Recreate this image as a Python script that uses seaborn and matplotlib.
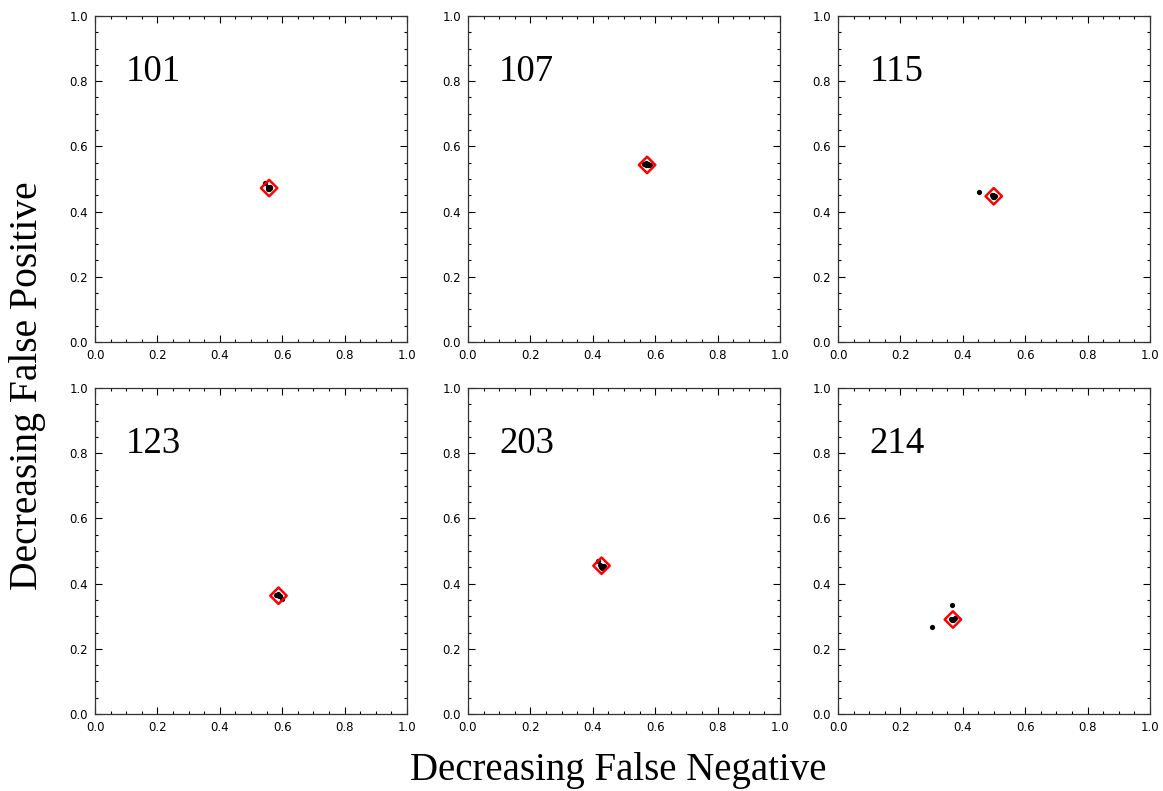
import matplotlib
matplotlib.use("Agg")
import matplotlib.pyplot as plt
from matplotlib.ticker import MultipleLocator
import seaborn as sns
import pandas as pd

sns.set_theme(style="white")
plt.rcParams["font.family"] = ["DejaVu Sans"]
plt.rcParams["text.color"] = "black"
plt.rcParams["xtick.color"] = "black"
plt.rcParams["ytick.color"] = "black"

# Panel identifiers
panels = ["101", "107", "115", "123", "203", "214"]

# Optimum (red diamond) per panel
best_x = [0.558, 0.574, 0.499, 0.588, 0.428, 0.368]
best_y = [0.472, 0.543, 0.447, 0.363, 0.455, 0.290]

# Individual runs (black dots) per panel
runs_x = [
    [0.545, 0.553, 0.556, 0.560, 0.558, 0.562, 0.555],
    [0.565, 0.570, 0.574, 0.578, 0.582, 0.572, 0.576],
    [0.452, 0.493, 0.497, 0.501, 0.499, 0.504, 0.496],
    [0.580, 0.584, 0.588, 0.590, 0.593, 0.598, 0.586],
    [0.418, 0.424, 0.428, 0.432, 0.430, 0.425, 0.436],
    [0.300, 0.365, 0.362, 0.367, 0.371, 0.375, 0.366],
    ]
runs_y = [
    [0.487, 0.476, 0.472, 0.474, 0.468, 0.471, 0.469],
    [0.545, 0.548, 0.546, 0.547, 0.544, 0.543, 0.542],
    [0.460, 0.450, 0.452, 0.448, 0.444, 0.447, 0.444],
    [0.365, 0.366, 0.364, 0.361, 0.362, 0.352, 0.368],
    [0.468, 0.458, 0.454, 0.452, 0.449, 0.451, 0.455],
    [0.268, 0.335, 0.293, 0.290, 0.292, 0.294, 0.287],
    ]

ticks_major = [0.0, 0.2, 0.4, 0.6, 0.8, 1.0]

fig = plt.figure(figsize=(11.63, 7.91), dpi=100)

lefts = [0.0817, 0.4024, 0.7206]
bottoms = [0.5677, 0.0973]
w, h = 0.2683, 0.4121

for i, name in enumerate(panels):
    r, c = divmod(i, 3)
    ax = fig.add_axes([lefts[c], bottoms[r], w, h])
    df_runs = pd.DataFrame({"x": runs_x[i], "y": runs_y[i]})
    sns.scatterplot(data=df_runs, x="x", y="y", ax=ax, color="black",
                    s=14, linewidth=0, marker="o", zorder=3)
    df_best = pd.DataFrame({"x": [best_x[i]], "y": [best_y[i]]})
    sns.scatterplot(data=df_best, x="x", y="y", ax=ax, marker="D",
                    s=70, facecolor="none", edgecolor="red", linewidth=1.8,
                    zorder=4)
    ax.set_xlim(0, 1)
    ax.set_ylim(0, 1)
    ax.set_xlabel("")
    ax.set_ylabel("")
    ax.xaxis.set_minor_locator(MultipleLocator(0.05))
    ax.yaxis.set_minor_locator(MultipleLocator(0.05))
    ax.set_xticks(ticks_major)
    ax.set_yticks(ticks_major)
    ax.set_xticklabels([f"{t:.1f}" for t in ticks_major])
    ax.set_yticklabels([f"{t:.1f}" for t in ticks_major])
    ax.tick_params(which="both", direction="in", top=True, right=True,
                   bottom=True, left=True, color="black", width=0.8)
    ax.tick_params(which="major", length=5, labelsize=8.5, pad=5)
    ax.tick_params(which="minor", length=2.5)
    for sp in ax.spines.values():
        sp.set_color("#333333")
        sp.set_linewidth(0.9)
    ax.text(0.1, 0.8, name, fontsize=26.5, family="Liberation Serif",
            va="baseline", ha="left", color="black")

fig.text(0.532, 0.026, "Decreasing False Negative", fontsize=28,
         family="Liberation Serif", ha="center", va="center", color="black")
fig.text(0.024, 0.513, "Decreasing False Positive", fontsize=28.5,
         family="Liberation Serif", ha="center", va="center", rotation=90,
         color="black")

fig.savefig("out.png", dpi=100, facecolor="white")
